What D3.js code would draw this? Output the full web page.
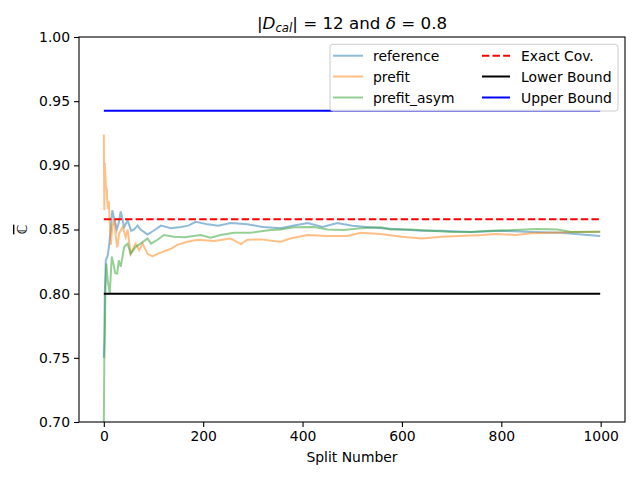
<!DOCTYPE html>
<html>
<head>
<meta charset="utf-8">
<script src="https://cdnjs.cloudflare.com/ajax/libs/d3/7.8.5/d3.min.js"></script>
<style>
  body { margin: 0; background: #fff; }
  text { font-family: "DejaVu Sans", sans-serif; }
</style>
</head>
<body>
<script>
// [split number, coverage]
const referenceData = [[0,0.75],[1,0.766],[2,0.80],[4,0.826],[8,0.83],[11,0.839],[14,0.85],[17,0.865],[20,0.86],[26,0.85],[30,0.855],[34,0.864],[41,0.852],[48,0.857],[55,0.849],[61,0.850],[68,0.853],[74,0.850],[88,0.846],[100,0.849],[115,0.853],[135,0.851],[155,0.852],[170,0.853],[185,0.856],[209,0.854],[230,0.853],[255,0.855],[289,0.854],[320,0.852],[356,0.851],[380,0.853],[410,0.855],[440,0.852],[470,0.855],[500,0.853],[530,0.852],[560,0.851],[600,0.850],[640,0.849],[680,0.849],[740,0.848],[800,0.849],[860,0.848],[920,0.8475],[950,0.8465],[999,0.845]];
const prefitData = [[0,0.924],[1,0.865],[2,0.902],[4,0.884],[6,0.881],[8,0.866],[10,0.872],[12,0.855],[14,0.838],[17,0.852],[21,0.858],[24,0.845],[27,0.836],[31,0.847],[38,0.852],[44,0.844],[48,0.850],[54,0.831],[64,0.839],[71,0.834],[78,0.839],[88,0.831],[98,0.829],[108,0.831],[121,0.833],[135,0.835],[148,0.838],[168,0.8405],[189,0.842],[222,0.841],[255,0.843],[276,0.8386],[289,0.842],[316,0.8423],[342,0.841],[356,0.8405],[375,0.843],[410,0.8457],[450,0.845],[490,0.845],[517,0.8475],[558,0.8465],[600,0.8444],[640,0.843],[680,0.8444],[715,0.845],[760,0.8457],[790,0.8465],[830,0.8457],[860,0.847],[900,0.8475],[950,0.848],[999,0.8483]];
const prefitAsymData = [[0,0.700],[1,0.748],[2,0.765],[3,0.80],[5,0.8235],[8,0.81],[12,0.80],[16,0.829],[20,0.822],[23,0.816],[27,0.8157],[30,0.826],[34,0.821],[41,0.8365],[48,0.839],[54,0.831],[64,0.8365],[74,0.839],[88,0.843],[95,0.839],[108,0.842],[121,0.8457],[141,0.8444],[162,0.844],[195,0.8457],[215,0.8436],[235,0.8457],[262,0.8475],[296,0.8475],[336,0.8496],[356,0.850],[383,0.8517],[423,0.852],[450,0.850],[483,0.8496],[517,0.851],[558,0.8517],[577,0.850],[618,0.850],[658,0.849],[698,0.848],[738,0.848],[779,0.849],[825,0.8496],[873,0.8504],[913,0.850],[940,0.848],[999,0.8483]];

const exactCov = 0.858;
const lowerBound = 0.80;
const upperBound = 0.9425;
const splitRange = [0, 999];

const xTicks = [0, 200, 400, 600, 800, 1000];
const yTicks = [0.70, 0.75, 0.80, 0.85, 0.90, 0.95, 1.00];

const w = 640, h = 480;
const mLeft = 79, mRight = 625, mTop = 37, mBottom = 422;

const svg = d3.select("body").append("svg")
  .attr("width", w)
  .attr("height", h);

const xScale = d3.scaleLinear().domain([-49.95, 1048.95]).range([mLeft, mRight]);
const yScale = d3.scaleLinear().domain([0.70, 1.00]).range([mBottom, mTop]);

svg.append("defs").append("clipPath").attr("id", "clip")
  .append("rect").attr("x", mLeft).attr("y", mTop)
  .attr("width", mRight - mLeft).attr("height", mBottom - mTop);

const plot = svg.append("g").attr("clip-path", "url(#clip)");

const line = d3.line().x(d => xScale(d[0])).y(d => yScale(d[1]));

const series = [
  { name: "reference", data: referenceData, color: "#1f77b4" },
  { name: "prefit", data: prefitData, color: "#ff7f0e" },
  { name: "prefit_asym", data: prefitAsymData, color: "#2ca02c" }
];

series.forEach(s => {
  plot.append("path")
    .datum(s.data)
    .attr("d", line)
    .attr("fill", "none")
    .attr("stroke", s.color)
    .attr("stroke-opacity", 0.5)
    .attr("stroke-width", 2);
});

const hlines = [
  { name: "Exact Cov.", v: exactCov, color: "red", dash: "7.4,3.2" },
  { name: "Lower Bound", v: lowerBound, color: "black", dash: null },
  { name: "Upper Bound", v: upperBound, color: "blue", dash: null }
];

hlines.forEach(l => {
  plot.append("path")
    .datum(splitRange.map(n => [n, l.v]))
    .attr("d", line)
    .attr("fill", "none")
    .attr("stroke", l.color)
    .attr("stroke-width", 2)
    .attr("stroke-dasharray", l.dash);
});

// axes
const xAxis = d3.axisBottom(xScale).tickValues(xTicks).tickSize(5).tickPadding(4).tickFormat(d3.format("d"));
const yAxis = d3.axisLeft(yScale).tickValues(yTicks).tickSize(5).tickPadding(4).tickFormat(d3.format(".2f"));

const gx = svg.append("g").attr("transform", "translate(0," + mBottom + ")").call(xAxis);
const gy = svg.append("g").attr("transform", "translate(" + mLeft + ",0)").call(yAxis);
[gx, gy].forEach(g => {
  g.select(".domain").remove();
  g.selectAll("text").attr("font-size", 13.9).attr("font-family", "DejaVu Sans").attr("fill", "#000");
  g.selectAll("line").attr("stroke", "#000").attr("stroke-width", 1.1);
});

svg.append("rect")
  .attr("x", mLeft).attr("y", mTop)
  .attr("width", mRight - mLeft).attr("height", mBottom - mTop)
  .attr("fill", "none").attr("stroke", "#000").attr("stroke-width", 1.1);

// title
const title = svg.append("text")
  .attr("x", (mLeft + mRight) / 2).attr("y", 29)
  .attr("text-anchor", "middle")
  .attr("font-size", 16.7);
title.append("tspan").text("|");
title.append("tspan").attr("font-style", "italic").text("D");
title.append("tspan").attr("font-style", "italic").attr("font-size", 11.7).attr("dy", 3).text("cal");
title.append("tspan").attr("dy", -3).text("| = 12 and ");
title.append("tspan").attr("font-style", "italic").text("δ");
title.append("tspan").text(" = 0.8");

svg.append("text")
  .attr("x", (mLeft + mRight) / 2).attr("y", 462)
  .attr("text-anchor", "middle")
  .attr("font-size", 13.9)
  .text("Split Number");

svg.append("text")
  .attr("transform", "translate(27," + ((mTop + mBottom) / 2) + ") rotate(-90)")
  .attr("text-anchor", "middle")
  .attr("font-size", 13.9)
  .style("text-decoration", "overline")
  .text("ℂ");

// legend
const legend = svg.append("g");
legend.append("rect")
  .attr("x", 330).attr("y", 44.3).attr("width", 288).attr("height", 66.7)
  .attr("rx", 3)
  .attr("fill", "#fff").attr("fill-opacity", 0.8)
  .attr("stroke", "#ccc").attr("stroke-width", 1);

const rows = [55.7, 76.5, 97.5];
series.forEach((s, i) => {
  legend.append("line")
    .attr("x1", 333).attr("x2", 363).attr("y1", rows[i]).attr("y2", rows[i])
    .attr("stroke", s.color).attr("stroke-opacity", 0.5).attr("stroke-width", 2);
  legend.append("text").attr("x", 373).attr("y", rows[i] + 5).attr("font-size", 13.9).text(s.name);
});
hlines.forEach((l, i) => {
  legend.append("line")
    .attr("x1", 482).attr("x2", 510).attr("y1", rows[i]).attr("y2", rows[i])
    .attr("stroke", l.color).attr("stroke-width", 2).attr("stroke-dasharray", l.dash);
  legend.append("text").attr("x", 521).attr("y", rows[i] + 5).attr("font-size", 13.9).text(l.name);
});
</script>
</body>
</html>
